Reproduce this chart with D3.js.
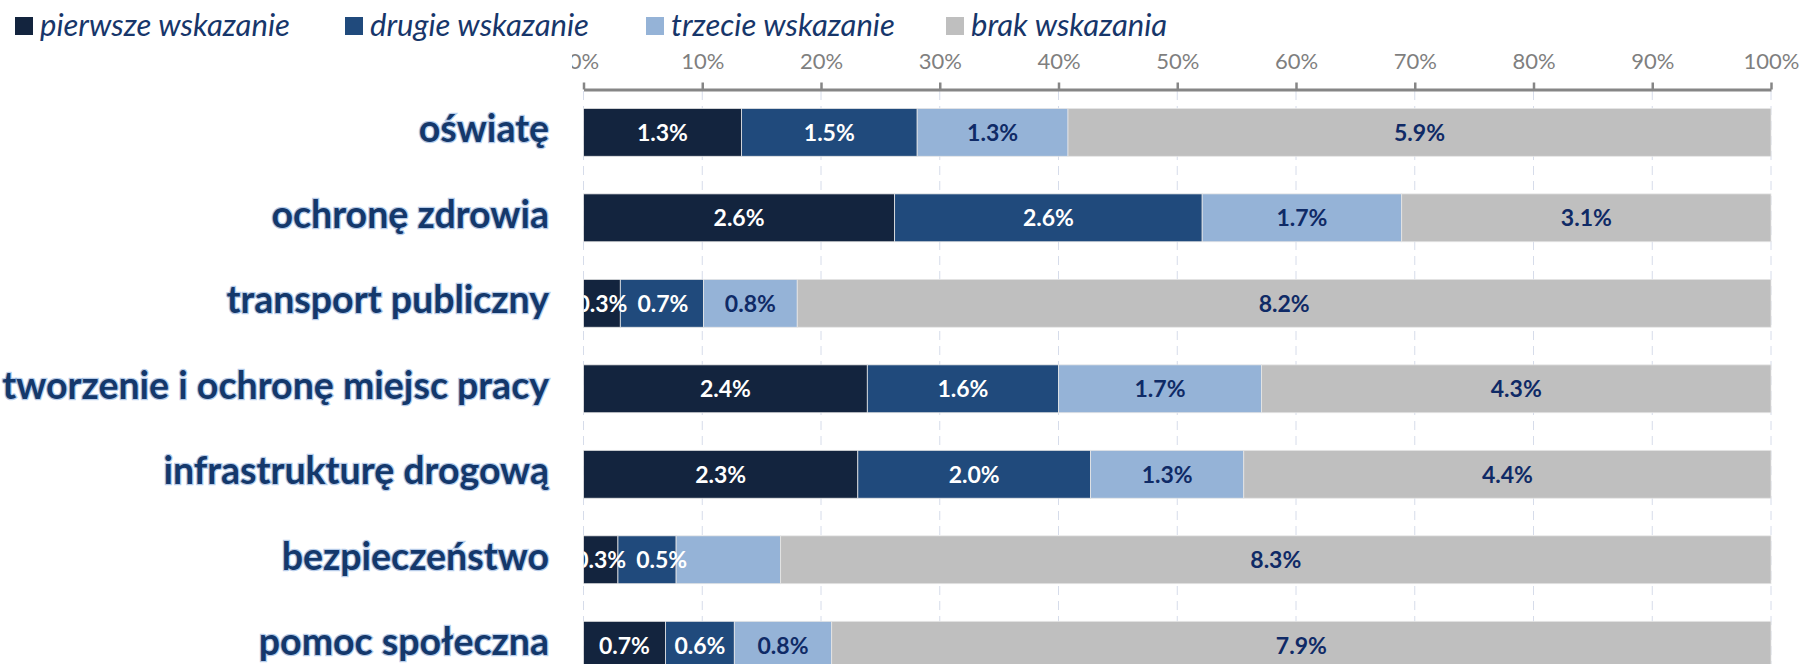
<!DOCTYPE html>
<html>
<head>
<meta charset="utf-8">
<script src="https://cdn.jsdelivr.net/npm/d3@7"></script>
<style>
  body { margin: 0; background: #fff; }
  svg { display: block; }
</style>
</head>
<body>
<div id="chart"></div>
<script>
// Categories (top to bottom) and the four series
const categories = ["oświatę", "ochronę zdrowia", "transport publiczny", "tworzenie i ochronę miejsc pracy",
  "infrastrukturę drogową", "bezpieczeństwo", "pomoc społeczna"];
const seriesNames = ["pierwsze wskazanie", "drugie wskazanie", "trzecie wskazanie", "brak wskazania"];

const pierwsze = [1.33, 2.62, 0.31, 2.39, 2.31, 0.29, 0.69];
const drugie   = [1.48, 2.59, 0.70, 1.61, 1.96, 0.49, 0.58];
const trzecie  = [1.27, 1.68, 0.79, 1.71, 1.29, 0.88, 0.82];
const brak     = [5.92, 3.11, 8.20, 4.29, 4.44, 8.34, 7.91];

const tickValues = [0, 0.1, 0.2, 0.3, 0.4, 0.5, 0.6, 0.7, 0.8, 0.9, 1];

// labels that are not shown in the original
const hiddenLabels = [["bezpieczeństwo", "trzecie wskazanie"]];

const colors = ["#13243e", "#204a7c", "#95b3d7", "#bfbfbf"];
const labelColors = ["#ffffff", "#ffffff", "#0f2a66", "#0f2a66"];

const width = 1802, height = 664;

const svg = d3.select("#chart")
  .append("svg")
  .attr("width", width)
  .attr("height", height);

const rows = categories.map((c, i) => ({
  category: c,
  "pierwsze wskazanie": pierwsze[i],
  "drugie wskazanie": drugie[i],
  "trzecie wskazanie": trzecie[i],
  "brak wskazania": brak[i]
}));

const stacked = d3.stack()
  .keys(seriesNames)
  .offset(d3.stackOffsetExpand)(rows);

const x = d3.scaleLinear().domain([0, 1]).range([583.5, 1771]);
const y = d3.scaleBand().domain(categories).range([89.6, 688])
  .paddingInner(0.44).paddingOuter(0.22);

// clip paths
const defs = svg.append("defs");
defs.append("clipPath").attr("id", "plotClip")
  .append("rect").attr("x", x(0)).attr("y", 0).attr("width", width - x(0)).attr("height", height);
defs.append("clipPath").attr("id", "tickClip")
  .append("rect").attr("x", 572).attr("y", -90).attr("width", width - 572).attr("height", 200);

// dashed gridlines
svg.append("g")
  .selectAll("line")
  .data(tickValues)
  .join("line")
  .attr("x1", d => x(d)).attr("x2", d => x(d))
  .attr("y1", 91).attr("y2", height)
  .attr("stroke", "#d6dcea")
  .attr("stroke-width", 1)
  .attr("stroke-dasharray", "9,6");

// bars
const layers = svg.append("g")
  .selectAll("g")
  .data(stacked)
  .join("g")
  .attr("fill", (d, i) => colors[i]);

layers.selectAll("rect")
  .data(d => d)
  .join("rect")
  .attr("x", d => x(d[0]))
  .attr("width", d => x(d[1]) - x(d[0]))
  .attr("y", d => y(d.data.category))
  .attr("height", y.bandwidth())
  .attr("stroke", "#e6e6e6")
  .attr("stroke-width", 0.8);

// data labels (pushed right when they would overlap the previous one in a row)
const fmt = d3.format(".1f");
const labelGroup = svg.append("g").attr("clip-path", "url(#plotClip)");
categories.forEach((cat, ci) => {
  let prevRight = -Infinity;
  stacked.forEach((layer, si) => {
    if (hiddenLabels.some(h => h[0] === cat && h[1] === layer.key)) return;
    const d = layer[ci];
    const t = labelGroup.append("text")
      .attr("y", y(cat) + y.bandwidth() / 2)
      .attr("dy", "0.36em")
      .attr("text-anchor", "middle")
      .style("font-family", "Lato, 'Open Sans', sans-serif")
      .style("font-weight", "bold")
      .style("font-size", "23px")
      .attr("fill", labelColors[si])
      .text(fmt(d.data[layer.key]) + "%");
    const w = t.node().getComputedTextLength();
    let cx = (x(d[0]) + x(d[1])) / 2;
    if (cx - w / 2 < prevRight + 10) cx = prevRight + 10 + w / 2;
    t.attr("x", cx);
    prevRight = cx + w / 2;
  });
});

// top axis
const axis = svg.append("g")
  .attr("transform", "translate(0, 89.5)")
  .attr("clip-path", "url(#tickClip)")
  .call(d3.axisTop(x).tickValues(tickValues).tickFormat(d3.format(".0%")).tickSize(7).tickPadding(14).tickSizeOuter(0));
axis.select(".domain").attr("stroke", "#868686").attr("stroke-width", 3);
axis.selectAll(".tick line").attr("stroke", "#868686").attr("stroke-width", 2.5);
axis.selectAll(".tick text")
  .attr("fill", "#7f7f7f")
  .style("font-family", "Lato, 'Open Sans', sans-serif")
  .style("font-size", "22px");

// category labels
svg.append("g")
  .selectAll("text")
  .data(categories)
  .join("text")
  .attr("x", 549)
  .attr("y", d => y(d) + y.bandwidth() / 2)
  .attr("dy", "0.27em")
  .attr("text-anchor", "end")
  .style("font-family", "Lato, 'Open Sans', sans-serif")
  .style("font-weight", "bold")
  .style("font-size", "37.5px")
  .style("paint-order", "stroke")
  .attr("stroke", "rgba(120,160,215,0.55)")
  .attr("stroke-width", 2.5)
  .attr("fill", "#14386b")
  .text(d => d);

// legend
const legendX = [15, 345, 646, 946];
const legend = svg.append("g")
  .selectAll("g")
  .data(seriesNames)
  .join("g")
  .attr("transform", (d, i) => `translate(${legendX[i]}, 0)`);

legend.append("rect")
  .attr("x", 0).attr("y", 17)
  .attr("width", 18).attr("height", 18)
  .attr("fill", (d, i) => colors[i]);

legend.append("text")
  .attr("x", 25).attr("y", 36)
  .style("font-family", "Lato, 'Open Sans', sans-serif")
  .style("font-style", "italic")
  .style("font-size", "31px")
  .attr("fill", "#17366a")
  .text(d => d);
</script>
</body>
</html>
